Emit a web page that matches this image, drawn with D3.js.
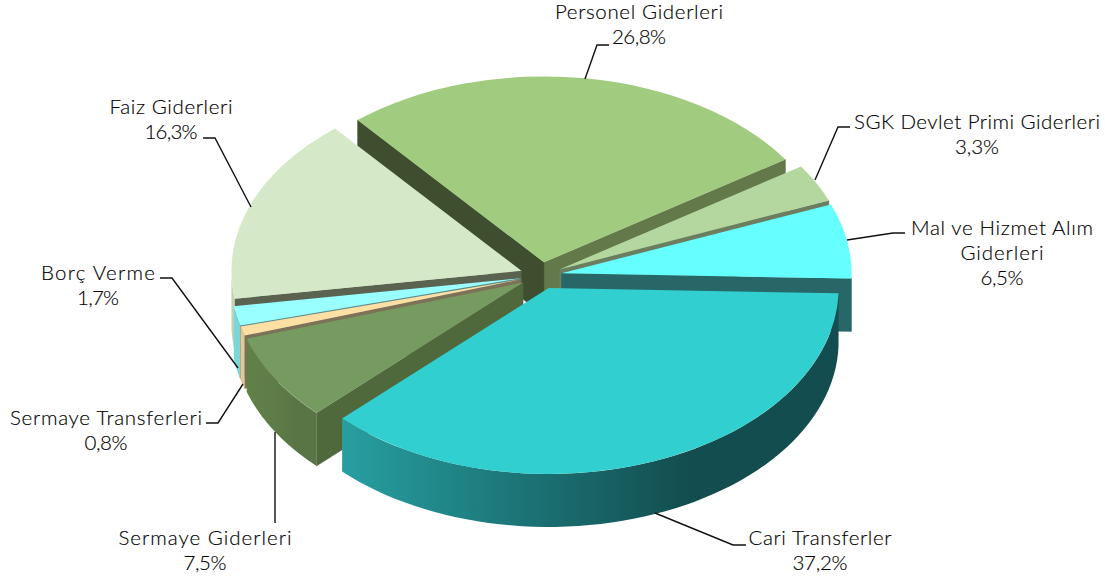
<!DOCTYPE html>
<html><head><meta charset="utf-8">
<script src="https://cdn.jsdelivr.net/npm/d3@7"></script>
<style>html,body{margin:0;background:#fff}svg{display:block}text{font-family:Lato,sans-serif;font-size:20.5px;font-weight:300;fill:#000;stroke:#000;stroke-width:.15px;text-anchor:middle}</style>
</head><body><svg id="c" width="1105" height="581"></svg>
<script>
const categories = ["Personel Giderleri","SGK Devlet Primi Giderleri","Mal ve Hizmet Alım Giderleri","Cari Transferler","Sermaye Giderleri","Sermaye Transferleri","Borç Verme","Faiz Giderleri"];
const values = [26.8,3.3,6.5,37.2,7.5,0.8,1.7,16.3];
const valueLabels = ["26,8%","3,3%","6,5%","37,2%","7,5%","0,8%","1,7%","16,3%"];
const topColors = ["#A1CB7F","#B4D7A0","#66FFFF","#31CFCF","#769B60","#FEE0A5","#99FFFF","#D5E9C9"];
const startCutColors = ["#3F4E2F","#6B7F60","#276768","#1F8284","#4F683C","#7D7258","#5F8C8C","#5A6350"];
const endCutColors = ["#63794A","#6B7F60","#276768","#1F8284","#4F683C","#7D7258","#5F8C8C","#5A6350"];
const wallFrom = ["#63794A","#6B7F60","#276768","#279FA1","#628149","#E3C995","#7AD6D9","#C2D2B4"];
const wallMid = ["#63794A","#6B7F60","#276768","#1A6D6F","#5E7C47","#E3C995","#7AD6D9","#C2D2B4"];
const wallTo = ["#63794A","#6B7F60","#276768","#134D4F","#5A7545","#E3C995","#7AD6D9","#C2D2B4"];
const labelLines = [["Personel Giderleri"],["SGK Devlet Primi Giderleri"],["Mal ve Hizmet Alım","Giderleri"],["Cari Transferler"],["Sermaye Giderleri"],["Sermaye Transferleri"],["Borç Verme"],["Faiz Giderleri"]];
// layout of labels: centre x, first baseline, line widths; leader polyline
const labelX = [639,977,1002,820,205,106,98,171];
const labelY = [19,129,235,545,545,425,280,114];
const labelWidths = [[168,54],[246,44],[182,83,43],[143,55],[173,43],[192,43],[114,42],[123,53]];
const leaders = [
 [[609,45],[597,45],[585,79]],
 [[850,127],[838,127],[815,180]],
 [[905,233],[893,233],[847,240]],
 [[746,545],[733,545],[655,513]],
 [[275,523],[275,432]],
 [[206,423],[218,423],[243,384]],
 [[160,278],[172,278],[238,368]],
 [[203,138],[215,138],[251,207]]
];
const cx=541, cy=275.6, R=290, tilt=0.641, explode=20.9, depth=53;
const svg=d3.select("#c"), defs=svg.append("defs");
const rad=d=>d*Math.PI/180;
const slices=d3.pie().sort(null).startAngle(rad(320)).endAngle(rad(680))(values);
const arc=d3.arc().innerRadius(0).outerRadius(R);
const px=a=>R*Math.sin(a), py=a=>-R*Math.cos(a)*tilt;
const line=d3.line();
// paint order: back slices first, front last
const order=[0,1,2,7,6,5,4,3];
order.forEach(i=>{
  const s=slices[i], a0=s.startAngle, a1=s.endAngle, mid=(a0+a1)/2;
  const ox=cx+explode*Math.sin(mid), oy=cy-explode*Math.cos(mid)*tilt;
  const g=svg.append("g").attr("transform",`translate(${ox},${oy})`);
  const cut=(a,col)=>g.append("path").attr("d",line([[0,0],[px(a),py(a)],[px(a),py(a)+depth],[0,depth]])+"Z").attr("fill",col).attr("stroke",col).attr("stroke-width",.4);
  const facing=(a,dir)=>Math.cos(a+dir*Math.PI/2)<0;
  if(facing(a1,1)) cut(a1,endCutColors[i]);
  if(facing(a0,-1)) cut(a0,startCutColors[i]);
  [[Math.PI/2,3*Math.PI/2],[Math.PI/2+2*Math.PI,3*Math.PI/2+2*Math.PI]].forEach(([lo,hi],k)=>{
    const b0=Math.max(a0,lo), b1=Math.min(a1,hi);
    if(b1<=b0) return;
    const n=60, ang=d3.range(n+1).map(t=>b0+(b1-b0)*t/n);
    const xs=ang.map(px);
    const id=`w${i}_${k}`;
    const gr=defs.append("linearGradient").attr("id",id).attr("gradientUnits","userSpaceOnUse")
      .attr("x1",d3.min(xs)).attr("x2",d3.max(xs)).attr("y1",0).attr("y2",0);
    gr.append("stop").attr("offset","0").attr("stop-color",wallFrom[i]);
    gr.append("stop").attr("offset","0.42").attr("stop-color",wallMid[i]);
    gr.append("stop").attr("offset","0.7").attr("stop-color",wallTo[i]);
    const pts=ang.map(a=>[px(a),py(a)]).concat(ang.slice().reverse().map(a=>[px(a),py(a)+depth]));
    g.append("path").attr("d",line(pts)+"Z").attr("fill",`url(#${id})`);
  });
  g.append("path").attr("d",arc({startAngle:a0,endAngle:a1})).attr("transform",`scale(1,${tilt})`).attr("fill",topColors[i]);
});
leaders.forEach(l=>svg.append("path").attr("d",line(l)).attr("fill","none").attr("stroke","#111").attr("stroke-width",1.4));
categories.forEach((c,i)=>{
  labelLines[i].concat([valueLabels[i]]).forEach((tx,j)=>svg.append("text")
    .attr("x",labelX[i]).attr("y",labelY[i]+j*25).attr("textLength",labelWidths[i][j]).text(tx));
});
</script></body></html>
